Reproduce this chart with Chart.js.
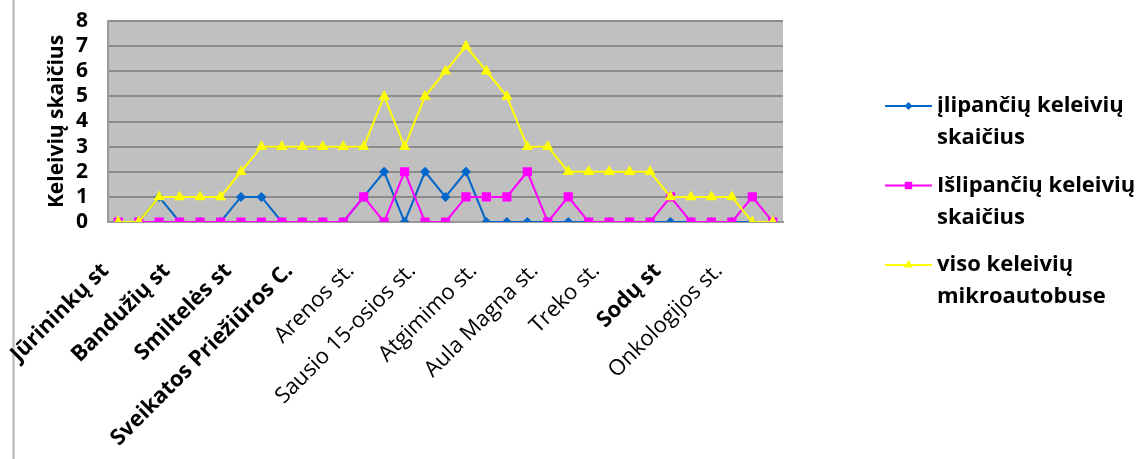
<!DOCTYPE html>
<html>
<head>
<meta charset="utf-8">
<script src="https://cdn.jsdelivr.net/npm/chart.js@4.4.0/dist/chart.umd.min.js"></script>
<style>
html,body{margin:0;padding:0;background:#fff;}
#wrap{width:1137px;height:459px;position:relative;}
</style>
</head>
<body>
<div id="wrap"><canvas id="c" width="1137" height="459"></canvas></div>
<script>
// Stops (only every third name is shown on the axis in the source)
const stops = ['Jūrininkų st','','','Bandužių st','','','Smiltelės st','','','Sveikatos Priežiūros C.','','','Arenos st.','','','Sausio 15-osios st.','','','Atgimimo st.','','','Aula Magna st.','','','Treko st.','','','Sodų st','','','Onkologijos st.','',''];
const boldStops = [0,3,6,9,27];
const boarding  = [0,0,1,0,0,0,1,1,0,0,0,0,1,2,0,2,1,2,0,0,0,0,0,0,0,0,0,0,0,0,0,0,0];
const alighting = [0,0,0,0,0,0,0,0,0,0,0,0,1,0,2,0,0,1,1,1,2,0,1,0,0,0,0,1,0,0,0,1,0];
const onboard   = [0,0,1,1,1,1,2,3,3,3,3,3,3,5,3,5,6,7,6,5,3,3,2,2,2,2,2,1,1,1,1,0,0];
const seriesNames = [['įlipančių keleivių','skaičius'],['Išlipančių keleivių','skaičius'],['viso keleivių','mikroautobuse']];
const yTicks = [0,1,2,3,4,5,6,7,8];
const yTitle = 'Keleivių skaičius';

const FONT = "'Open Sans', sans-serif";

const bgPlugin = {
  id:'bg',
  beforeDraw(chart){
    const {ctx, chartArea:a} = chart;
    ctx.save();
    ctx.fillStyle = '#C0C0C0';
    ctx.fillRect(a.left, a.top, a.right-a.left, a.bottom-a.top);
    ctx.strokeStyle = '#B4B4B4';
    ctx.lineWidth = 2;
    ctx.beginPath(); ctx.moveTo(13.5,0); ctx.lineTo(13.5,459); ctx.stroke();
    ctx.restore();
  }
};

function drawMarker(ctx, style, x, y, r, color){
  ctx.fillStyle = color;
  ctx.beginPath();
  if(style==='rectRot'){
    ctx.moveTo(x, y-r); ctx.lineTo(x+r, y); ctx.lineTo(x, y+r); ctx.lineTo(x-r, y);
  } else if(style==='rect'){
    const s = r*Math.SQRT1_2; ctx.rect(x-s, y-s, 2*s, 2*s);
  } else {
    const side = 3*r/Math.sqrt(3), h = side*Math.sqrt(3)/2;
    ctx.moveTo(x, y - 2*h/3); ctx.lineTo(x+side/2, y+h/3); ctx.lineTo(x-side/2, y+h/3);
  }
  ctx.closePath(); ctx.fill();
}

const legendPlugin = {
  id:'myLegend',
  afterDraw(chart){
    const ctx = chart.ctx;
    const ys = [106, 185.5, 265];
    ctx.save();
    chart.data.datasets.forEach((ds,i)=>{
      const y = ys[i];
      ctx.strokeStyle = ds.borderColor; ctx.lineWidth = 2;
      ctx.beginPath(); ctx.moveTo(885,y); ctx.lineTo(932,y); ctx.stroke();
      drawMarker(ctx, ds.pointStyle, 908.5, y, ds.pointRadius*0.8, ds.borderColor);
      ctx.fillStyle = '#000';
      ctx.font = "bold 22px " + FONT;
      ctx.textBaseline = 'middle'; ctx.textAlign = 'left';
      seriesNames[i].forEach((t,j)=> ctx.fillText(t, 937, y + j*32));
    });
    ctx.restore();
  }
};

new Chart(document.getElementById('c'), {
  type:'line',
  data:{
    labels: stops,
    datasets:[
      {label: seriesNames[0].join(' '), data: boarding, borderColor:'#0066CC', backgroundColor:'#0066CC', pointStyle:'rectRot', pointRadius:5, pointBorderWidth:0, borderWidth:2, order:3},
      {label: seriesNames[1].join(' '), data: alighting, borderColor:'#FF00FF', backgroundColor:'#FF00FF', pointStyle:'rect', pointRadius:6.5, pointBorderWidth:0, borderWidth:2, order:2},
      {label: seriesNames[2].join(' '), data: onboard, borderColor:'#FFFF00', backgroundColor:'#FFFF00', pointStyle:'triangle', pointRadius:6.5, pointBorderWidth:0, borderWidth:2, order:1}
    ]
  },
  options:{
    responsive:false,
    animation:false,
    devicePixelRatio:1,
    layout:{padding:{left:0, top:21, right:354, bottom:0}},
    plugins:{legend:{display:false}, tooltip:{enabled:false}},
    elements:{line:{tension:0}},
    scales:{
      x:{
        offset:true,
        grid:{display:false, drawTicks:false},
        border:{display:true, color:'#9A9A9A', width:2},
        afterFit(s){ s.height = 459-222; s.paddingLeft = 0; s.paddingRight = 0; },
        ticks:{
          autoSkip:false, maxRotation:45, minRotation:45,
          padding:36, labelOffset:-13, color:'#000',
          font:(c)=>({family:FONT, size:22, weight: boldStops.includes(c.index)?'bold':'normal'})
        }
      },
      y:{
        min:0, max:8,
        afterFit(s){ s.width = 108; s.paddingTop = 0; s.paddingBottom = 0; },
        afterBuildTicks(s){ s.ticks = yTicks.map(v=>({value:v})); },
        grid:{color:'#8C8C8C', lineWidth:2, drawTicks:false},
        border:{display:true, color:'#9A9A9A', width:2},
        ticks:{autoSkip:false, stepSize:1, padding:20, color:'#000', font:{family:FONT, size:21, weight:'bold'}},
        title:{display:true, text:yTitle, color:'#000', font:{family:FONT, size:21, weight:'bold'}, padding:{top:44, bottom:0}}
      }
    }
  },
  plugins:[bgPlugin, legendPlugin]
});
</script>
</body>
</html>
